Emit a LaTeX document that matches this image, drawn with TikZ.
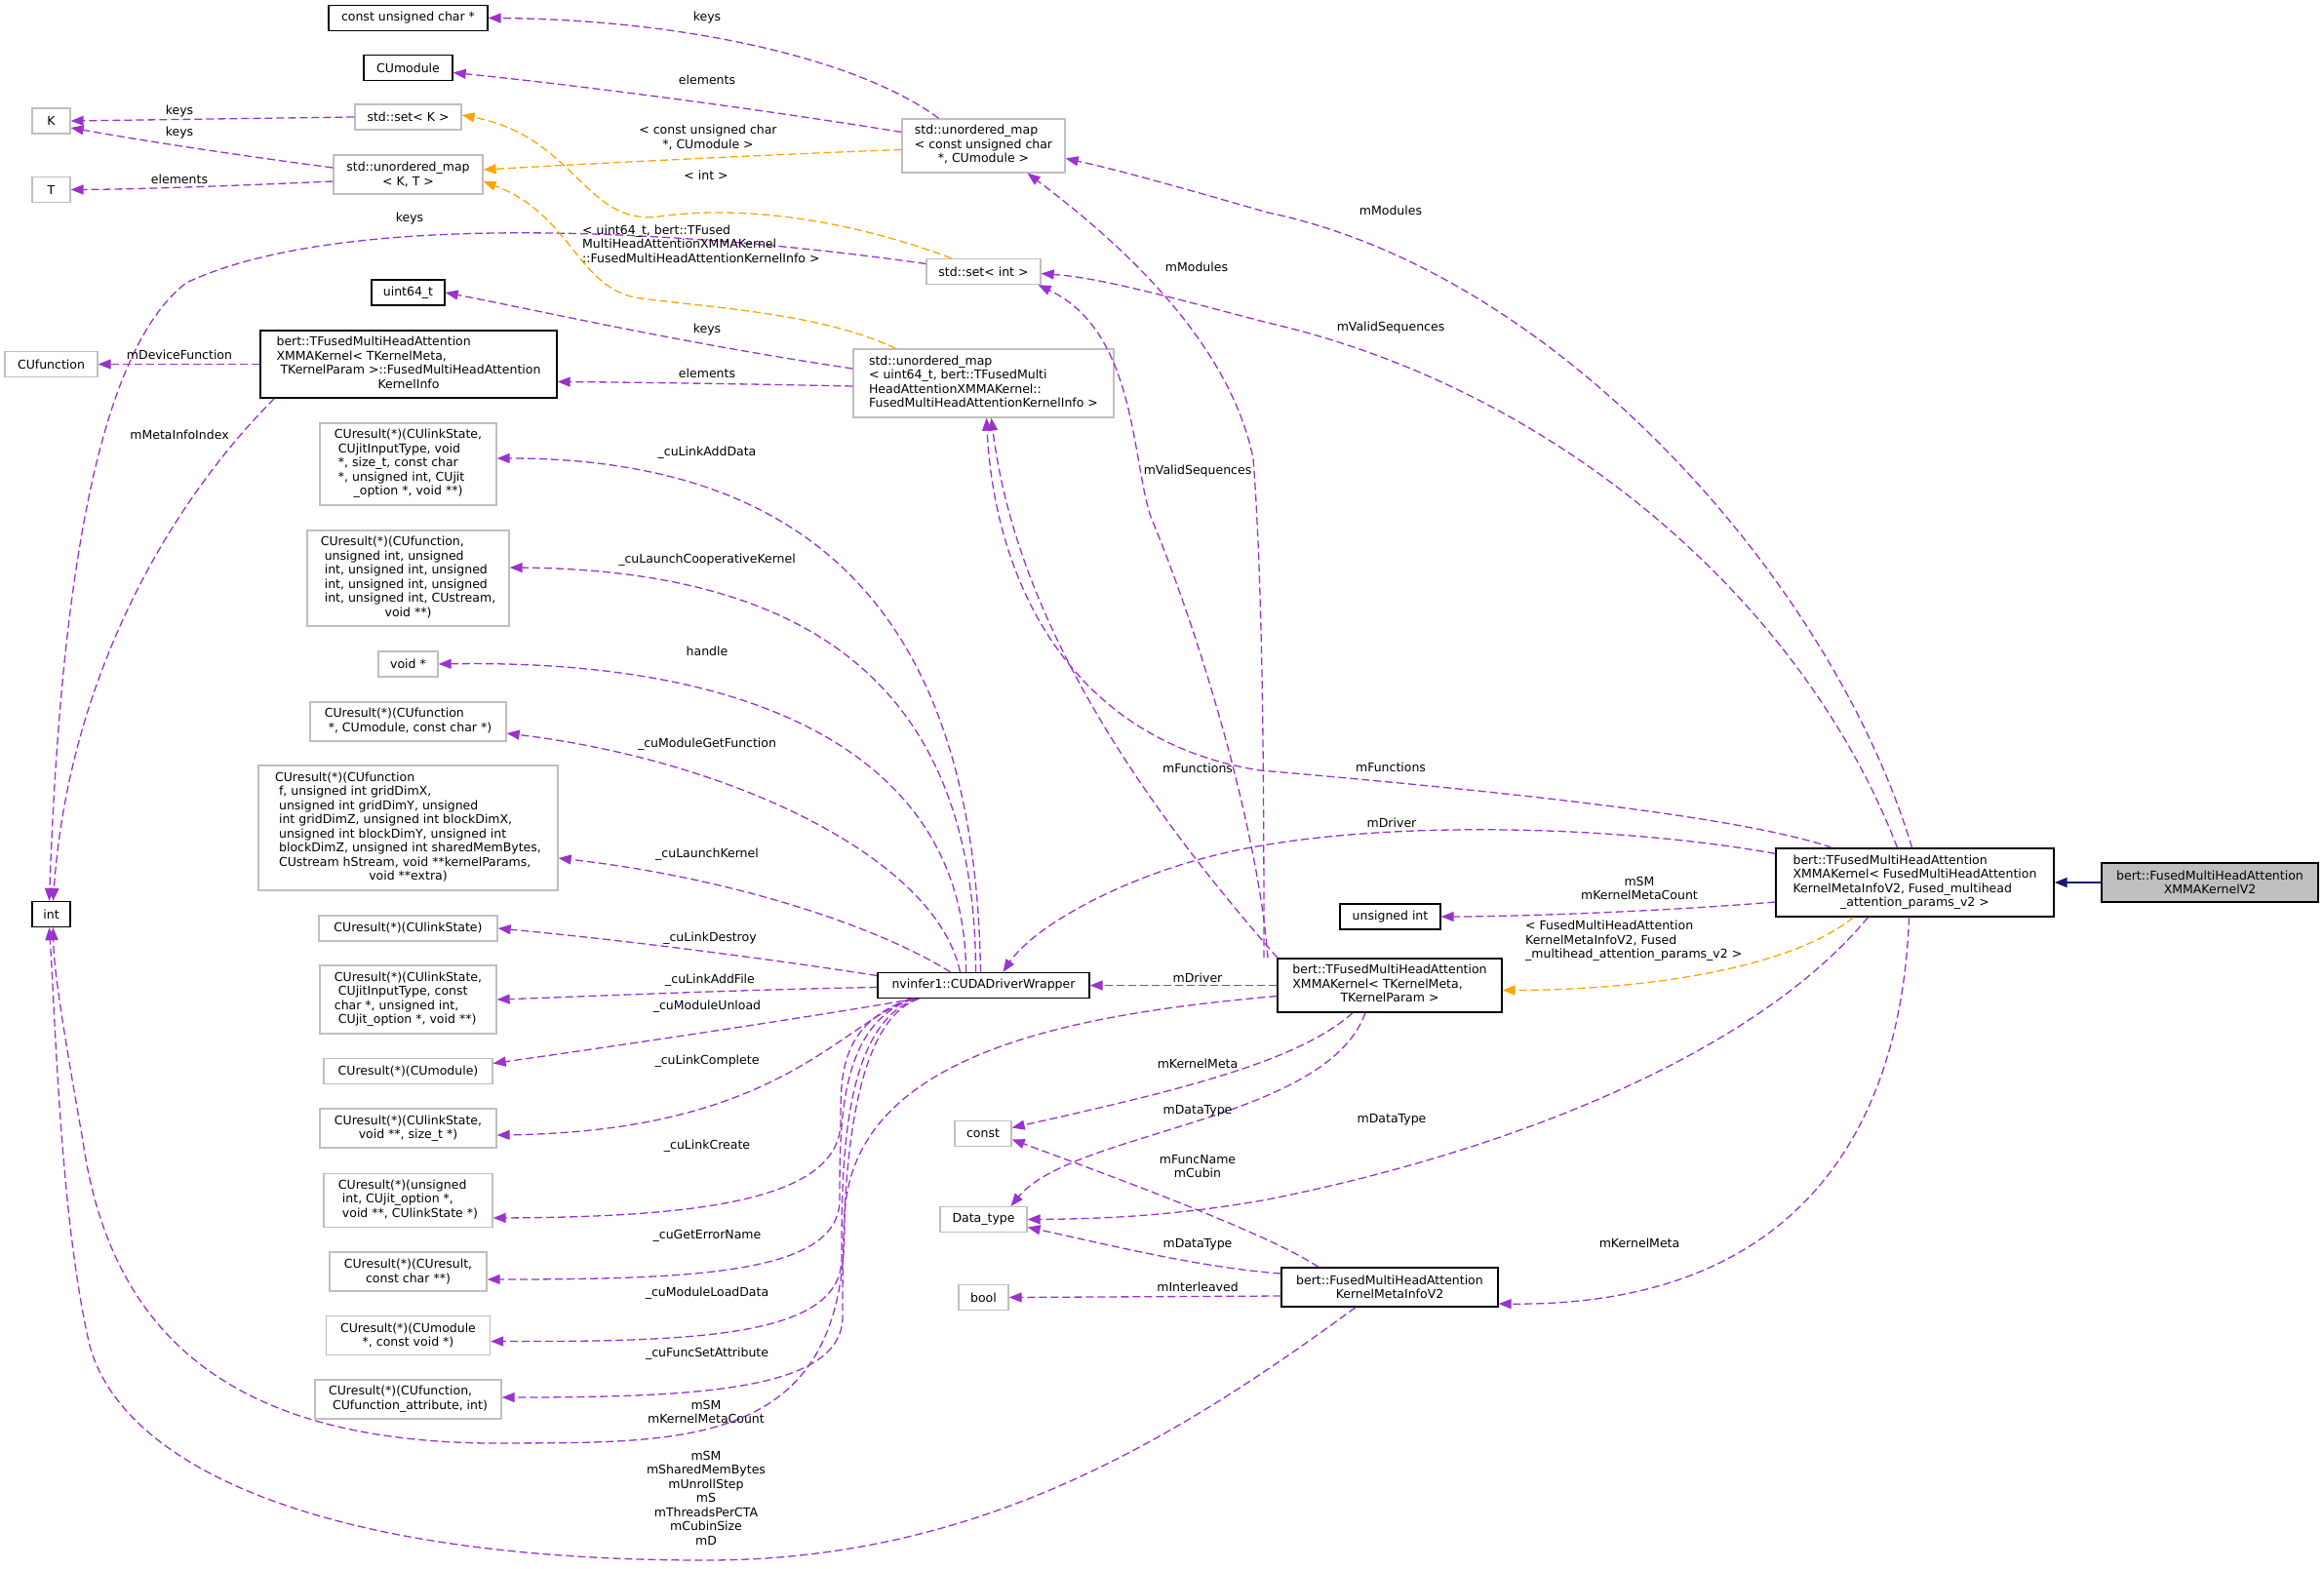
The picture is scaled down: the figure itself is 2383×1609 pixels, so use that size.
\documentclass[tikz,border=0pt]{standalone}
\usepackage{fontspec}
\setmainfont{DejaVu Sans}
\usepackage{xcolor}
\usepackage{tikz}
\usetikzlibrary{arrows.meta}

\definecolor{usecol}{HTML}{9A32CD}
\definecolor{tplcol}{HTML}{FFA500}
\definecolor{inhcol}{HTML}{191970}
\definecolor{grayline}{HTML}{BFBFBF}

\newcommand{\dotfont}{\fontsize{12.5}{14.5}\selectfont}
\newcommand{\boxrows}[1]{\begin{tabular}{@{}l@{}}#1\end{tabular}}
\newcommand{\ctrrow}[1]{\multicolumn{1}{@{}c@{}}{#1}}

\tikzset{
  cls/.style={draw=black, line width=1.3pt, fill=white, inner sep=1pt},
  ext/.style={draw=grayline, line width=1.3pt, fill=white, inner sep=1pt},
  root/.style={draw=black, line width=1.3pt, fill=grayline, inner sep=1pt},
  wh/.style n args={2}{minimum width=#1pt, minimum height=#2pt},
  uses/.style={draw=usecol, line width=1.3pt, dash pattern=on 8pt off 4pt, -{Triangle[length=13pt,width=10pt]}},
  inst/.style={uses, draw=tplcol},
  inherit/.style={draw=inhcol, line width=1.6pt, -{Triangle[length=13pt,width=10pt]}},
  elbl/.style={inner sep=0pt, align=center},
}

\begin{document}
\begin{tikzpicture}[x=1pt, y=-1pt, every node/.style={font=\dotfont}]
    \useasboundingbox (0,0) rectangle (2383,1609);

    % Classes on the left
    \node[cls, wh={163}{26}] (cuc) at (418.5,18.5) {const unsigned char *};
    \node[cls, wh={91}{26}] (cumod) at (418.5,69.5) {CUmodule};
    \node[ext, wh={39}{26}] (K) at (52.5,124) {K};
    \node[ext, wh={109}{26}] (setK) at (418.5,120) {std::set< K >};
    \node[ext, wh={153}{40}, align=center] (umapKT) at (418.5,179) {std::unordered\_map\\< K, T >};
    \node[ext, wh={39}{26}] (T) at (52.5,194.5) {T};
    \node[cls, wh={75}{26}] (uint64) at (418.5,300) {uint64\_t};
    \node[ext, wh={95}{26}] (cufn) at (52.5,373.5) {CUfunction};
    \node[cls, wh={304}{69}] (kinfo) at (419,373.5) {\boxrows{bert::TFusedMultiHeadAttention\\XMMAKernel< TKernelMeta,\\\ TKernelParam >::FusedMultiHeadAttention\\\ctrrow{KernelInfo}}};
    \node[cls, wh={39}{26}] (int) at (52.5,937.5) {int};

    % Function pointer types
    \node[ext, wh={181}{84}] (fLinkAddData) at (418.5,476) {\boxrows{CUresult(*)(CUlinkState,\\\ CUjitInputType, void\\\ *, size\_t, const char\\\ *, unsigned int, CUjit\\\ctrrow{\_option *, void **)}}};
    \node[ext, wh={207}{98}] (fLaunchCoop) at (418.5,593) {\boxrows{CUresult(*)(CUfunction,\\\ unsigned int, unsigned\\\ int, unsigned int, unsigned\\\ int, unsigned int, unsigned\\\ int, unsigned int, CUstream,\\\ctrrow{void **)}}};
    \node[ext, wh={61}{26}] (voidp) at (418.5,681) {void *};
    \node[ext, wh={201}{40}] (fGetFn) at (418.5,740) {\boxrows{CUresult(*)(CUfunction\\\ *, CUmodule, const char *)}};
    \node[ext, wh={307}{128}] (fLaunchK) at (418.5,849) {\boxrows{CUresult(*)(CUfunction\\\ f, unsigned int gridDimX,\\\ unsigned int gridDimY, unsigned\\\ int gridDimZ, unsigned int blockDimX,\\\ unsigned int blockDimY, unsigned int\\\ blockDimZ, unsigned int sharedMemBytes,\\\ CUstream hStream, void **kernelParams,\\\ctrrow{void **extra)}}};
    \node[ext, wh={183}{26}] (fLinkDestroy) at (418.5,952) {CUresult(*)(CUlinkState)};
    \node[ext, wh={181}{70}] (fLinkAddFile) at (418.5,1025) {\boxrows{CUresult(*)(CUlinkState,\\\ CUjitInputType, const\\char *, unsigned int,\\\ CUjit\_option *, void **)}};
    \node[ext, wh={173}{26}] (fModUnload) at (418.5,1098.5) {CUresult(*)(CUmodule)};
    \node[ext, wh={181}{40}, align=center] (fLinkComplete) at (418.5,1157) {CUresult(*)(CUlinkState,\\void **, size\_t *)};
    \node[ext, wh={173}{55}] (fLinkCreate) at (418.5,1231) {\boxrows{CUresult(*)(unsigned\\\ int, CUjit\_option *,\\\ void **, CUlinkState *)}};
    \node[ext, wh={161}{40}, align=center] (fErrName) at (418.5,1304) {CUresult(*)(CUresult,\\const char **)};
    \node[ext, wh={168}{40}, align=center] (fLoadData) at (418.5,1369.5) {CUresult(*)(CUmodule\\*, const void *)};
    \node[ext, wh={191}{40}] (fFuncAttr) at (418.5,1435) {\boxrows{CUresult(*)(CUfunction,\\\ CUfunction\_attribute, int)}};

    % Middle column
    \node[ext, wh={167}{55}] (umapCU) at (1008.5,149.5) {\boxrows{std::unordered\_map\\< const unsigned char\\\ctrrow{*, CUmodule >}}};
    \node[ext, wh={117}{26}] (setInt) at (1008.5,278.5) {std::set< int >};
    \node[ext, wh={267}{70}] (umapU64) at (1008.5,393) {\boxrows{std::unordered\_map\\< uint64\_t, bert::TFusedMulti\\HeadAttentionXMMAKernel::\\FusedMultiHeadAttentionKernelInfo >}};
    \node[cls, wh={217}{26}] (drv) at (1008.5,1010.5) {nvinfer1::CUDADriverWrapper};
    \node[ext, wh={58}{26}] (const) at (1008,1162.5) {const};
    \node[ext, wh={89}{26}] (dtype) at (1008.5,1250.5) {Data\_type};
    \node[ext, wh={51}{26}] (bool) at (1008.5,1330.5) {bool};

    % Kernel classes
    \node[cls, wh={103}{26}] (uint) at (1425.5,940) {unsigned int};
    \node[cls, wh={230}{55}] (tkern) at (1425,1010.5) {\boxrows{bert::TFusedMultiHeadAttention\\XMMAKernel< TKernelMeta,\\\ctrrow{TKernelParam >}}};
    \node[cls, wh={222}{40}, align=center] (kmi) at (1425,1320) {bert::FusedMultiHeadAttention\\KernelMetaInfoV2};
    \node[cls, wh={285}{70}] (tmpl) at (1963.5,905) {\boxrows{bert::TFusedMultiHeadAttention\\XMMAKernel< FusedMultiHeadAttention\\KernelMetaInfoV2, Fused\_multihead\\\ctrrow{\_attention\_params\_v2 >}}};
    \node[root, wh={222}{40}, align=center] (v2) at (2266,905) {bert::FusedMultiHeadAttention\\XMMAKernelV2};

    % Template containers
    \draw[uses] ([xshift=-46pt]umapCU.north) .. controls (880,60) and (700,20) .. (cuc.east);
    \draw[uses] ([yshift=14pt]umapCU.west) .. controls (800,115) and (600,88) .. ([yshift=-5pt]cumod.east);
    \draw[uses] (setK.west) -- (K.east);
    \draw[uses] ([yshift=7pt]umapKT.west) .. controls (250,160) and (150,145) .. ([yshift=-7pt]K.east);
    \draw[uses] ([yshift=-7pt]umapKT.west) .. controls (250,190) and (150,194) .. (T.east);
    \draw[uses] ([yshift=8pt]setInt.west) .. controls (700,235) and (350,215) .. (191,290) .. controls (100,360) and (62,600) .. ([xshift=-2pt]int.north);
    \draw[uses] ([yshift=15pt]umapU64.west) .. controls (700,352) and (560,320) .. (uint64.east);
    \draw[uses] ([yshift=-3pt]umapU64.west) .. controls (780,394) and (650,392) .. ([yshift=-18pt]kinfo.east);
    \draw[uses] (kinfo.west) -- (cufn.east);
    \draw[uses] ([xshift=15pt]kinfo.south west) .. controls (170,520) and (70,700) .. ([xshift=2pt]int.north);
    \draw[inst] ([xshift=-33pt]setInt.north) .. controls (870,225) and (760,210) .. (676,222) .. controls (600,232) and (590,140) .. ([yshift=2pt]setK.east);
    \draw[inst] ([yshift=-4pt]umapCU.west) .. controls (800,158) and (600,168) .. ([yshift=5pt]umapKT.east);
    \draw[inst] ([xshift=-90pt]umapU64.north) .. controls (840,320) and (720,315) .. (650,305) .. controls (590,290) and (585,220) .. ([yshift=-7pt]umapKT.east);

    % Driver wrapper members
    \draw[uses] ([xshift=-3pt]drv.north) .. controls (1000,650) and (850,470) .. ([yshift=6pt]fLinkAddData.east);
    \draw[uses] ([xshift=-8pt]drv.north) .. controls (1000,720) and (850,585) .. ([yshift=11pt]fLaunchCoop.east);
    \draw[uses] ([xshift=-18pt]drv.north) .. controls (990,790) and (800,675) .. (voidp.east);
    \draw[uses] ([xshift=-24pt]drv.north) .. controls (960,880) and (750,780) .. ([yshift=-12pt]fGetFn.east);
    \draw[uses] ([xshift=-34pt]drv.north) .. controls (900,950) and (750,900) .. ([yshift=-31pt]fLaunchK.east);
    \draw[uses] ([yshift=10pt]drv.west) .. controls (800,985) and (650,965) .. (fLinkDestroy.east);
    \draw[uses] ([yshift=-2pt]drv.west) .. controls (750,1015) and (600,1022) .. (fLinkAddFile.east);
    \draw[uses] ([xshift=-70pt]drv.south) .. controls (850,1040) and (650,1070) .. ([yshift=8pt]fModUnload.east);
    \draw[uses] ([xshift=-73pt]drv.south) .. controls (860,1050) and (800,1160) .. ([yshift=-7pt]fLinkComplete.east);
    \draw[uses] ([xshift=-75pt]drv.south) .. controls (862,1050) and (862,1100) .. (862,1150) .. controls (862,1230) and (720,1248) .. ([yshift=-18pt]fLinkCreate.east);
    \draw[uses] ([xshift=-72pt]drv.south) .. controls (861,1050) and (861,1150) .. (861,1230) .. controls (861,1305) and (720,1312) .. ([yshift=-8pt]fErrName.east);
    \draw[uses] ([xshift=-68pt]drv.south) .. controls (863,1050) and (863,1200) .. (863,1290) .. controls (863,1370) and (720,1376) .. ([yshift=-6pt]fLoadData.east);
    \draw[uses] ([xshift=-66pt]drv.south) .. controls (864,1050) and (864,1250) .. (864,1350) .. controls (864,1425) and (720,1433) .. ([yshift=2pt]fFuncAttr.east);

    % Kernel template members
    \draw[uses] ([yshift=-11pt]tkern.west) .. controls (1100,1040) and (870,1080) .. (866,1250) .. controls (868,1490) and (700,1479) .. (500,1480) .. controls (250,1477) and (115,1380) .. (85,1170) .. controls (62,1040) and (55,990) .. ([xshift=2pt]int.south);
    \draw[uses] ([xshift=-129pt]tkern.north) .. controls (1296,800) and (1295,600) .. (1285,470) .. controls (1260,350) and (1150,250) .. ([xshift=45pt]umapCU.south);
    \draw[uses] ([xshift=-125pt]tkern.north) .. controls (1290,850) and (1230,650) .. (1180,530) .. controls (1160,470) and (1165,340) .. ([xshift=56pt]setInt.south);
    \draw[uses] ([xshift=-115pt]tkern.north) .. controls (1150,800) and (1040,620) .. ([xshift=8pt]umapU64.south);
    \draw[uses] (tkern.west) -- (drv.east);
    \draw[uses] ([xshift=-38pt]tkern.south) .. controls (1330,1090) and (1200,1120) .. ([yshift=6pt]const.east);
    \draw[uses] ([xshift=-25pt]tkern.south) .. controls (1360,1150) and (1100,1160) .. ([xshift=28pt]dtype.north);

    % Meta info members
    \draw[uses] ([xshift=-73pt]kmi.north) .. controls (1300,1265) and (1150,1210) .. ([yshift=-6pt]const.east);
    \draw[uses] ([yshift=14pt]kmi.west) .. controls (1230,1300) and (1130,1275) .. ([yshift=-8pt]dtype.east);
    \draw[uses] ([yshift=-9pt]kmi.west) -- (bool.east);
    \draw[uses] ([xshift=-35pt]kmi.south) .. controls (1200,1480) and (1000,1600) .. (724,1600) .. controls (320,1600) and (125,1500) .. (92,1380) .. controls (62,1250) and (57,1050) .. ([xshift=-2pt]int.south);

    % Instance members
    \draw[uses] ([xshift=-3pt]tmpl.north) .. controls (1880,600) and (1600,280) .. (1300,218) .. controls (1220,195) and (1150,175) .. ([yshift=-13pt]umapCU.east);
    \draw[uses] ([xshift=-18pt]tmpl.north) .. controls (1850,620) and (1600,400) .. (1300,331) .. controls (1200,305) and (1130,285) .. ([yshift=-2pt]setInt.east);
    \draw[uses] ([xshift=-85pt]tmpl.north) .. controls (1780,835) and (1500,808) .. (1292,790) .. controls (1100,760) and (1020,600) .. ([xshift=3pt]umapU64.south);
    \draw[uses] ([yshift=-6pt]tmpl.north west) .. controls (1650,845) and (1400,840) .. (1250,876) .. controls (1150,900) and (1060,950) .. ([xshift=20pt]drv.north);
    \draw[uses] ([yshift=-20pt]tmpl.west) .. controls (1700,935) and (1550,940) .. (uint.east);
    \draw[inst] ([xshift=-63pt]tmpl.south) .. controls (1840,990) and (1700,1015) .. ([yshift=-5pt]tkern.east);
    \draw[uses] ([xshift=-48pt]tmpl.south) .. controls (1800,1080) and (1550,1180) .. (1300,1230) .. controls (1200,1248) and (1120,1250) .. (dtype.east);
    \draw[uses] ([xshift=-6pt]tmpl.south) .. controls (1950,1150) and (1850,1340) .. ([yshift=-17pt]kmi.east);
    \draw[inherit] (v2.west) -- (tmpl.east);

    % Edge labels
    \node[elbl] (lKeysA) at (725,18) {keys};
    \node[elbl] (lElemA) at (725,82) {elements};
    \node[elbl] (lKeysB) at (184,114) {keys};
    \node[elbl] (lKeysC) at (184,136) {keys};
    \node[elbl] (lElemB) at (184,184) {elements};
    \node[elbl] (lTplCU) at (726,141) {< const unsigned char\\*, CUmodule >};
    \node[elbl] (lTplInt) at (724,180) {< int >};
    \node[elbl] (lKeysD) at (420,224) {keys};
    \node[elbl, align=left, anchor=west] (lTplU64) at (597,250) {< uint64\_t, bert::TFused\\MultiHeadAttentionXMMAKernel\\::FusedMultiHeadAttentionKernelInfo >};
    \node[elbl] (lKeysE) at (725,338) {keys};
    \node[elbl] (lElemC) at (725,383) {elements};
    \node[elbl] (lDevFn) at (184,364) {mDeviceFunction};
    \node[elbl] (lMetaIdx) at (184,446) {mMetaInfoIndex};
    \node[elbl] (lModA) at (1426,216) {mModules};
    \node[elbl] (lModB) at (1227,274) {mModules};
    \node[elbl] (lValidA) at (1426,336) {mValidSequences};
    \node[elbl] (lValidB) at (1228,483) {mValidSequences};
    \node[elbl] (lAddData) at (725,464) {\_cuLinkAddData};
    \node[elbl] (lCoop) at (725,574) {\_cuLaunchCooperativeKernel};
    \node[elbl] (lHandle) at (725,668) {handle};
    \node[elbl] (lGetFn) at (725,763) {\_cuModuleGetFunction};
    \node[elbl] (lLaunch) at (725,876) {\_cuLaunchKernel};
    \node[elbl] (lFnA) at (1426,787) {mFunctions};
    \node[elbl] (lFnB) at (1228,788) {mFunctions};
    \node[elbl] (lDrvA) at (1427,844) {mDriver};
    \node[elbl] (lSMu) at (1681,911) {mSM\\mKernelMetaCount};
    \node[elbl, align=left, anchor=west] (lTplV2) at (1564,965) {< FusedMultiHeadAttention\\KernelMetaInfoV2, Fused\\\_multihead\_attention\_params\_v2 >};
    \node[elbl] (lDestroy) at (728,962) {\_cuLinkDestroy};
    \node[elbl] (lDrvB) at (1228,1003) {mDriver};
    \node[elbl] (lAddFile) at (728,1005) {\_cuLinkAddFile};
    \node[elbl] (lUnload) at (725,1032) {\_cuModuleUnload};
    \node[elbl] (lComplete) at (725,1088) {\_cuLinkComplete};
    \node[elbl] (lKMetaA) at (1228,1091) {mKernelMeta};
    \node[elbl] (lDTypeA) at (1228,1139) {mDataType};
    \node[elbl] (lDTypeB) at (1427,1148) {mDataType};
    \node[elbl] (lCreate) at (725,1175) {\_cuLinkCreate};
    \node[elbl] (lFnName) at (1228,1196) {mFuncName\\mCubin};
    \node[elbl] (lErr) at (725,1267) {\_cuGetErrorName};
    \node[elbl] (lKMetaB) at (1681,1275) {mKernelMeta};
    \node[elbl] (lDTypeC) at (1228,1276) {mDataType};
    \node[elbl] (lInter) at (1228,1320) {mInterleaved};
    \node[elbl] (lLoad) at (725,1326) {\_cuModuleLoadData};
    \node[elbl] (lAttr) at (725,1388) {\_cuFuncSetAttribute};
    \node[elbl] (lSMi) at (724,1448) {mSM\\mKernelMetaCount};
    \node[elbl] (lSMall) at (724,1536) {mSM\\mSharedMemBytes\\mUnrollStep\\mS\\mThreadsPerCTA\\mCubinSize\\mD};
\end{tikzpicture}
\end{document}
